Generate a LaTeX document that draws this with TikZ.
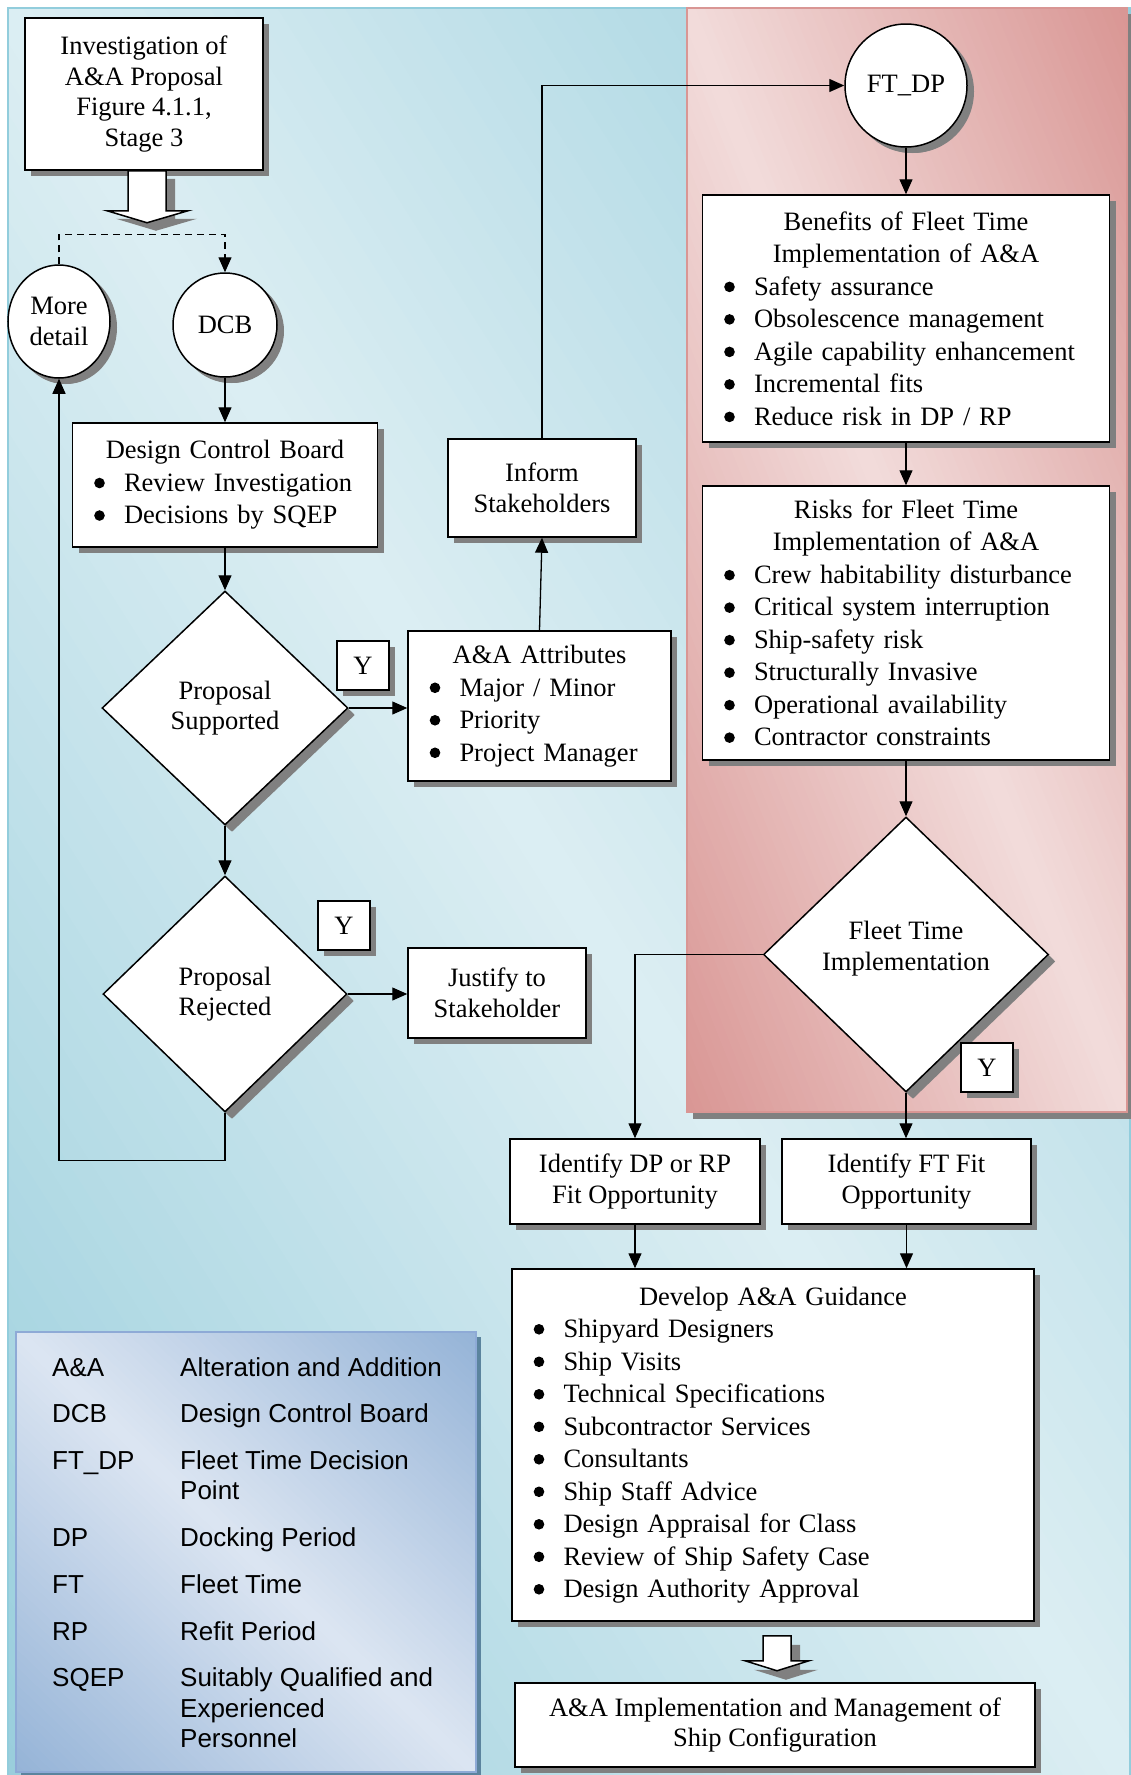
\documentclass[tikz,border=0pt]{standalone}
\usepackage{fontspec}
\setmainfont{Liberation Serif}
\newfontfamily\legendsans{Liberation Sans}
\usetikzlibrary{shapes.geometric,arrows.meta,shadows,calc}

\definecolor{bluedark}{HTML}{99CEDC}
\definecolor{bluelight}{HTML}{DCEEF3}
\definecolor{blueedge}{HTML}{92CDDC}
\definecolor{pinkdark}{HTML}{D99694}
\definecolor{pinklight}{HTML}{F2DCDB}
\definecolor{pinkedge}{HTML}{D99694}
\definecolor{keydark}{HTML}{95B3D7}
\definecolor{keylight}{HTML}{DCE6F2}
\definecolor{keyedge}{HTML}{8EAAD6}
\definecolor{keyshadow}{HTML}{5B849E}

% round bullet dot, centred a little above the baseline
\newcommand\bdot{\tikz[baseline=-8.3pt]\fill (0,0) circle (5.3pt);}
% one bulleted line inside a list box
\newcommand\bitem[1]{\par\noindent\hspace*{21.7pt}\makebox[29.8pt][l]{\bdot}#1}

% panel with a diagonal gradient: corner colour at top right and bottom left,
% centre colour along the diagonal from top left to bottom right
% #1,#2 top-left corner, #3,#4 width and height, #5 corner colour, #6 centre colour
\newcommand\diagpanel[6]{%
  \begin{scope}
    \clip (#1,#2) rectangle ++(#3,#4);
    \begin{scope}[shift={(#1,#2)}, xscale=#3, yscale=#4]
      \foreach \i in {0,...,99}{%
        \pgfmathsetmacro\c{-1+\i*0.02}%
        \pgfmathsetmacro\m{abs(\c+0.01)*100}%
        \fill[#5!\m!#6] (\c,0) -- (\c+0.03,0) -- (\c+1.03,1) -- (\c+1,1) -- cycle;
      }
    \end{scope}
  \end{scope}}

\begin{document}
\begin{tikzpicture}[x=1pt, y=-1pt,
  txt/.style={font=\fontsize{26.5}{30.5}\selectfont},
  shadowed/.style={drop shadow={shadow xshift=6pt, shadow yshift=-6pt, fill=black!50, opacity=1}},
  box/.style={txt, draw, line width=1.5pt, fill=white, shadowed, inner sep=0pt, align=center},
  listbox/.style={box, font=\fontsize{26.5}{32.5}\selectfont, align=left},
  decision/.style={box, diamond, drop shadow={shadow xshift=7pt, shadow yshift=-7pt, fill=black!50, opacity=1}},
  circ/.style={box, ellipse, drop shadow={shadow xshift=7pt, shadow yshift=-6pt, fill=black!50, opacity=1}},
  ybox/.style={box, minimum width=52pt, minimum height=49pt},
  conn/.style={line width=1.3pt, -{Triangle[length=15pt,width=13pt]}},
  blockshadow/.style={fill=black!50},
  blockbody/.style={draw, fill=white, line width=1.5pt, line join=miter},
]
\useasboundingbox (0,0) rectangle (1131,1775);

% background panels
\diagpanel{8}{8}{1122}{1767}{bluedark}{bluelight}
\draw[blueedge, line width=2pt] (1130,1790) -- (1130,8) -- (8,8) -- (8,1790);

\fill[black!50] (693,14) rectangle (1133,1119);
\diagpanel{687}{8}{440}{1104}{pinkdark}{pinklight}
\draw[pinkedge, line width=2pt] (687,8) rectangle (1127,1112);

% key panel
\fill[keyshadow] (21,1337) rectangle (481,1777);
\diagpanel{16}{1332}{460}{440}{keydark}{keylight}
\draw[keyedge, line width=1.5pt] (16,1332) rectangle (476,1772);

\node[anchor=base west, inner sep=0pt, font=\legendsans\fontsize{26}{30.5}\selectfont] (keytext) at (52,1376)
  {\begin{tabular}[t]{@{}p{128pt}@{}l@{}}
   A\&A & Alteration and Addition\\[16.2pt]
   DCB & Design Control Board\\[16.2pt]
   FT\_DP & Fleet Time Decision\\
         & Point\\[16.2pt]
   DP & Docking Period\\[16.2pt]
   FT & Fleet Time\\[16.2pt]
   RP & Refit Period\\[16.2pt]
   SQEP & Suitably Qualified and\\
        & Experienced\\
        & Personnel
   \end{tabular}};

% left column
\node[box, minimum width=238pt, minimum height=152pt] (inv) at (144,94)
  {Investigation of\\A\&A Proposal\\Figure 4.1.1,\\Stage 3};
\node[circ, minimum width=102pt, minimum height=113pt] (more) at (59,321.5) {More\\detail};
\node[circ, minimum width=104pt, minimum height=104pt] (dcb) at (225,325) {DCB};
\node[listbox, text width=305pt, minimum height=124pt] (dcbbox) at (225,485)
  {{\centering Design Control Board\par}\bitem{Review Investigation}\bitem{Decisions by SQEP}};
\node[decision, minimum width=246pt, minimum height=234pt] (d1) at (225,708) {Proposal\\Supported};
\node[ybox] (y1) at (363,665.5) {Y};
\node[decision, minimum width=244pt, minimum height=236pt] (d2) at (225,994) {Proposal\\Rejected};
\node[ybox] (y2) at (344,925.5) {Y};
\node[box, minimum width=178pt, minimum height=90pt] (just) at (497,993) {Justify to\\Stakeholder};

% middle column
\node[listbox, text width=263pt, minimum height=150pt] (attr) at (539.5,706)
  {{\centering A\&A Attributes\par}\bitem{Major / Minor}\bitem{Priority}\bitem{Project Manager}};
\node[box, minimum width=188pt, minimum height=98pt] (inform) at (542,488) {Inform\\Stakeholders};

% fleet time column
\node[circ, minimum width=122pt, minimum height=123pt] (ftdp) at (906,85.5) {FT\_DP};
\node[listbox, text width=407pt, minimum height=247pt] (ben) at (906,318.5)
  {{\centering Benefits of Fleet Time\\Implementation of A\&A\par}%
   \bitem{Safety assurance}\bitem{Obsolescence management}\bitem{Agile capability enhancement}%
   \bitem{Incremental fits}\bitem{Reduce risk in DP / RP}};
\node[listbox, text width=407pt, minimum height=274pt] (risk) at (906,623)
  {{\centering Risks for Fleet Time\\Implementation of A\&A\par}%
   \bitem{Crew habitability disturbance}\bitem{Critical system interruption}\bitem{Ship-safety risk}%
   \bitem{Structurally Invasive}\bitem{Operational availability}\bitem{Contractor constraints}};
\node[decision, minimum width=285pt, minimum height=275pt] (ftd) at (906,954.5) {};
\node[txt, align=center, inner sep=0pt] (ftdtext) at ([yshift=6pt]ftd.center) {Fleet Time\\Implementation};
\node[ybox] (y3) at (987,1067.5) {Y};

% lower part
\node[box, minimum width=250pt, minimum height=85pt] (iddp) at (635,1181.5) {Identify DP or RP\\Fit Opportunity};
\node[box, minimum width=249pt, minimum height=85pt] (idft) at (906.5,1181.5) {Identify FT Fit\\Opportunity};
\node[listbox, text width=522pt, minimum height=352pt] (dev) at (773,1445)
  {{\centering Develop A\&A Guidance\par}%
   \bitem{Shipyard Designers}\bitem{Ship Visits}\bitem{Technical Specifications}%
   \bitem{Subcontractor Services}\bitem{Consultants}\bitem{Ship Staff Advice}%
   \bitem{Design Appraisal for Class}\bitem{Review of Ship Safety Case}\bitem{Design Authority Approval}};
\node[box, minimum width=520pt, minimum height=84pt] (final) at (775,1725)
  {A\&A Implementation and Management of\\Ship Configuration};

% hollow block arrows
\coordinate (ba1) at ([xshift=3pt]inv.south);
\begin{scope}[shift={(ba1)}]
  \fill[blockshadow] (-10,8) -- (28,8) -- (28,48) -- (50,48) -- (9,60) -- (-31,48) -- (-10,48) -- cycle;
  \draw[blockbody] (-19,0) -- (19,0) -- (19,40) -- (41,40) -- (0,52) -- (-40,40) -- (-19,40) -- cycle;
\end{scope}
\coordinate (ba2) at ([xshift=4pt, yshift=-14pt]dev.south);
\begin{scope}[shift={(ba2)}]
  \fill[blockshadow] (-5,9) -- (23,9) -- (23,34) -- (41,34) -- (9,44) -- (-23,34) -- (-5,34) -- cycle;
  \draw[blockbody] (-14,0) -- (14,0) -- (14,25) -- (32,25) -- (0,35) -- (-32,25) -- (-14,25) -- cycle;
\end{scope}

% connectors
\draw[conn, dash pattern=on 7pt off 5pt] (more.north) -- ++(0,-30) -| (dcb.north);
\draw[conn] (dcb.south) -- (dcbbox.north);
\draw[conn] (dcbbox.south) -- (d1.north);
\draw[conn] (d1.east) -- (d1.east -| attr.west);
\draw[conn] (attr.north) -- (inform.south);
\draw[conn] (inform.north) |- (ftdp.west);
\draw[conn] (ftdp.south) -- (ben.north);
\draw[conn] (ben.south) -- (risk.north);
\draw[conn] (risk.south) -- (ftd.north);
\draw[conn] (ftd.west) -| (iddp.north);
\draw[conn] (ftd.south) -- (ftd.south |- idft.north);
\draw[conn] (iddp.south) -- (iddp.south |- dev.north);
\draw[conn] (idft.south) -- (idft.south |- dev.north);
\draw[conn] (d1.south) -- (d2.north);
\draw[conn] (d2.east) -- (d2.east -| just.west);
\draw[conn] (d2.south) -- ++(0,48) -| (more.south);
\end{tikzpicture}
\end{document}
